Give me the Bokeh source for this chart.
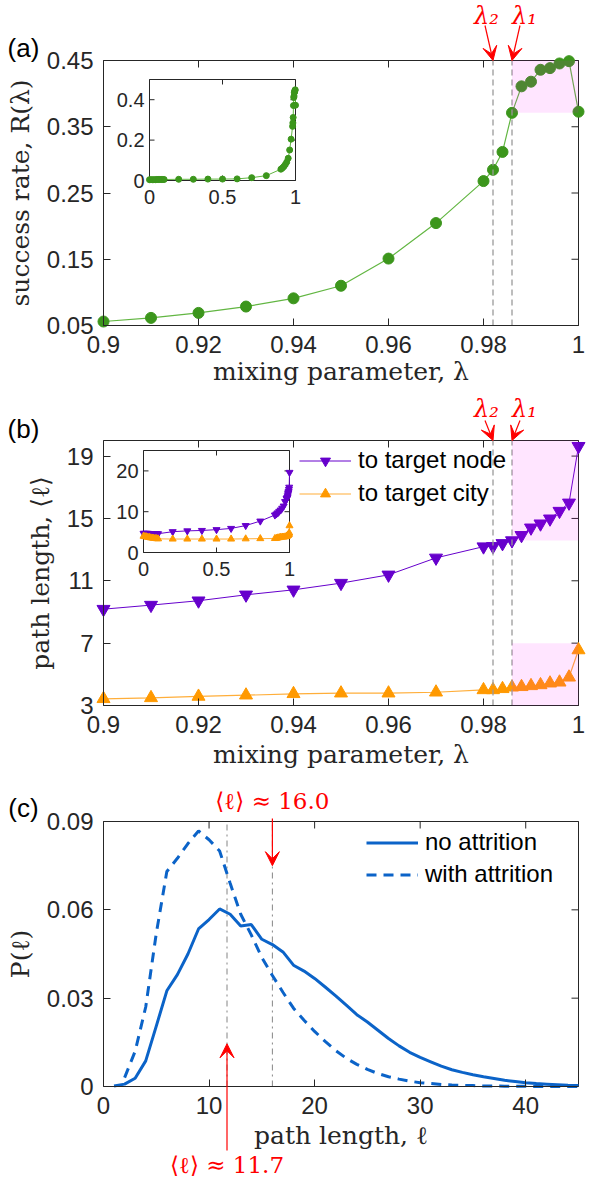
from bokeh.plotting import figure
from bokeh.models import (Range1d, FixedTicker, NumeralTickFormatter, Label, Arrow, VeeHead,
                          Legend, LegendItem, BoxAnnotation)
from bokeh.layouts import column
from bokeh.embed import file_html
from bokeh.resources import INLINE
from bokeh.core.properties import value

# ------------------------------------------------------------------ data
lam_lo = [0.0, 0.01, 0.02, 0.03, 0.04, 0.05, 0.06, 0.07, 0.08, 0.09, 0.1,
          0.2, 0.3, 0.4, 0.5, 0.6, 0.7, 0.8]
lam_hi = [0.90, 0.91, 0.92, 0.93, 0.94, 0.95, 0.96, 0.97, 0.98, 0.982, 0.984,
          0.986, 0.988, 0.990, 0.992, 0.994, 0.996, 0.998, 1.000]

R_lo = [0.004, 0.004, 0.004, 0.004, 0.004, 0.005, 0.005, 0.005, 0.005, 0.005, 0.005,
        0.006, 0.006, 0.007, 0.007, 0.008, 0.014, 0.024]
R_hi = [0.056, 0.0615, 0.069, 0.0786, 0.091, 0.110, 0.151, 0.2046, 0.268, 0.285, 0.312,
        0.371, 0.411, 0.418, 0.436, 0.4385, 0.4455, 0.449, 0.3727]

node_lo = [4.7, 4.7, 4.7, 4.7, 4.65, 4.65, 4.6, 4.6, 4.6, 4.6, 4.6,
           5.1, 5.3, 5.4, 5.6, 5.9, 6.6, 7.7]
node_hi = [9.18, 9.44, 9.72, 10.1, 10.42, 10.85, 11.38, 12.47, 13.19, 13.21, 13.4,
           13.58, 13.92, 14.4, 14.66, 14.98, 15.47, 16.0, 19.63]
city_lo = [4.0, 3.9, 3.85, 3.75, 3.7, 3.6, 3.55, 3.5, 3.45, 3.4, 3.35,
           3.3, 3.3, 3.3, 3.3, 3.3, 3.35, 3.4]
city_hi = [3.43, 3.49, 3.58, 3.66, 3.75, 3.79, 3.79, 3.85, 4.0, 4.0, 4.07,
           4.17, 4.2, 4.26, 4.32, 4.43, 4.49, 4.81, 6.56]

lam1 = 0.986
lam2 = 0.982
city_box_top = 7.0

ell_no = list(range(1, 46))
P_no = [0.0002, 0.0008, 0.0028, 0.0087, 0.0205, 0.0325, 0.0380, 0.0450, 0.0535, 0.0567,
        0.0603, 0.0585, 0.0545, 0.0550, 0.0500, 0.0482, 0.0457, 0.0412, 0.0392, 0.0367,
        0.0338, 0.0308, 0.0276, 0.0244, 0.0219, 0.0191, 0.0163, 0.0138, 0.0116, 0.0099,
        0.0084, 0.0069, 0.0057, 0.0048, 0.0040, 0.0033, 0.0027, 0.0021, 0.0017, 0.0013,
        0.0010, 0.0008, 0.0006, 0.0004, 0.0003]
ell_with = list(range(2, 46))
P_with = [0.003, 0.012, 0.027, 0.052, 0.073, 0.0775, 0.0825, 0.0868, 0.0838, 0.0800,
          0.0690, 0.0585, 0.0515, 0.0438, 0.0377, 0.0320, 0.0266, 0.0225, 0.0187, 0.0153,
          0.0122, 0.0096, 0.0075, 0.0058, 0.0044, 0.0033, 0.0025, 0.0018, 0.0013, 0.0010,
          0.0007, 0.0005, 0.0004, 0.0003, 0.0002, 0.0002, 0.0001, 0.0001, 0.0001, 0.0,
          0.0, 0.0, 0.0, 0.0]
mean_no = 16.0
mean_with = 11.7

xt_ab = [0.9, 0.92, 0.94, 0.96, 0.98, 1.0]
yt_a = [0.05, 0.15, 0.25, 0.35, 0.45]
yt_b = [3, 7, 11, 15, 19]
xt_c = [0, 10, 20, 30, 40]
yt_c = [0, 0.03, 0.06, 0.09]
inset_xt = [0, 0.5, 1]
inset_xl = ["0", "0.5", "1"]
inset_yt_a = [0, 0.2, 0.4]
inset_yl_a = ["0", "0.2", "0.4"]
inset_yt_b = [0, 10, 20]
inset_yl_b = ["0", "10", "20"]

# ------------------------------------------------------------------ style
AX = "#262626"
GREEN = "#3c961c"
GREEN_L = "#62b642"
PURPLE = "#6600cc"
ORANGE = "#ff9900"
ORANGE_L = "#ffae3a"
BLUE = "#0b63c8"
RED = "#ff0000"
SANS = "Liberation Sans"
SERIF = "DejaVu Serif"
W = 586
BOX_L, BOX_R = 103, 578
BOX_H = 265
TICK = 7


class Panel:
    """A figure whose frame fills the canvas; the axes box sits at fixed pixels."""

    def __init__(self, height, top, xlo, xhi, ylo, yhi, xt, yt, xlabel, ylabel, fx, fy,
                 xlabel_standoff=0):
        self.T, self.B, self.H = top, top + BOX_H, height
        self.xlo, self.xhi, self.ylo, self.yhi = xlo, xhi, ylo, yhi
        self.sx = (xhi - xlo) / (BOX_R - BOX_L)
        self.sy = (yhi - ylo) / BOX_H
        p = figure(width=W, height=height,
                   x_range=Range1d(self.X(0), self.X(W)),
                   y_range=Range1d(self.Y(height), self.Y(0)),
                   output_backend="svg", toolbar_location=None, min_border=0)
        p.grid.visible = False
        p.outline_line_color = None
        p.background_fill_color = "white"
        p.border_fill_color = "white"
        for ax, ticks, fmt, loc, bnd, lab in ((p.xaxis[0], xt, fx, ylo, (xlo, xhi), xlabel),
                                              (p.yaxis[0], yt, fy, xlo, (ylo, yhi), ylabel)):
            ax.ticker = FixedTicker(ticks=ticks)
            ax.formatter = NumeralTickFormatter(format=fmt)
            ax.fixed_location = loc
            ax.bounds = bnd
            ax.axis_label = lab
            ax.major_tick_in = TICK
            ax.major_tick_out = 0
            ax.minor_tick_in = 0
            ax.minor_tick_out = 0
            ax.axis_line_color = AX
            ax.major_tick_line_color = AX
            ax.major_label_text_font = SANS
            ax.major_label_text_font_size = "24px"
            ax.major_label_text_color = AX
            ax.major_label_standoff = 10
            ax.axis_label_text_font = SERIF
            ax.axis_label_text_font_size = "25px"
            ax.axis_label_text_font_style = "normal"
            ax.axis_label_text_color = AX
        p.xaxis[0].axis_label_standoff = xlabel_standoff
        p.yaxis[0].axis_label_standoff = 9
        # top and right edges of the box with mirrored inward ticks
        p.segment(x0=[xlo, xhi], y0=[yhi, ylo], x1=[xhi, xhi], y1=[yhi, yhi], line_color=AX)
        p.segment(x0=xt, y0=[yhi] * len(xt), x1=xt, y1=[yhi - TICK * self.sy] * len(xt),
                  line_color=AX)
        p.segment(x0=[xhi] * len(yt), y0=yt, x1=[xhi - TICK * self.sx] * len(yt), y1=yt,
                  line_color=AX)
        self.p = p

    def X(self, px):
        return self.xlo + (px - BOX_L) * self.sx

    def Y(self, py):
        return self.yhi - (py - self.T) * self.sy

    def vlines(self, locs, color, dash, width):
        self.p.segment(x0=locs, y0=[self.ylo] * len(locs), x1=locs, y1=[self.yhi] * len(locs),
                       line_color=color, line_dash=dash, line_width=width)

    def arrow(self, x0, y0, x1, y1):
        self.p.add_layout(Arrow(end=VeeHead(size=14, fill_color=RED, line_color=RED,
                                            line_width=1),
                                x_start=x0, y_start=y0, x_end=x1, y_end=y1,
                                line_color=RED, line_width=1.2))

    def label(self, x, y, text, font, size, color, style="normal"):
        self.p.add_layout(Label(x=x, y=y, text=text, text_font=font, text_font_size=size,
                                text_color=color, text_align="center",
                                text_baseline="middle", text_font_style=style))

    def lam_marks(self, y_start_px, y_label_px):
        for lam, dx_arrow, dx_label, txt in ((lam2, -8, -6.5, "λ₂"), (lam1, 8, 12.5, "λ₁")):
            self.arrow(lam + dx_arrow * self.sx, self.Y(y_start_px), lam, self.yhi)
            self.label(lam + dx_label * self.sx, self.Y(y_label_px), txt, SERIF, "24px", RED,
                       "italic")

    def inset(self, px_l, px_r, py_t, py_b, ytop, yt, yl):
        xy = self.p.subplot(x_source=Range1d(0, 1), y_source=Range1d(0, ytop),
                            x_target=Range1d(self.X(px_l), self.X(px_r)),
                            y_target=Range1d(self.Y(py_b), self.Y(py_t)))
        tx = 5.0 / (px_r - px_l)
        ty = 5.0 / (py_b - py_t) * ytop
        xy.quad(left=[0], right=[1], bottom=[0], top=[ytop], fill_color="white",
                line_color=AX, line_width=1)
        n, m = len(inset_xt), len(yt)
        xy.segment(x0=inset_xt, y0=[0] * n, x1=inset_xt, y1=[ty] * n, line_color=AX)
        xy.segment(x0=inset_xt, y0=[ytop] * n, x1=inset_xt, y1=[ytop - ty] * n, line_color=AX)
        xy.segment(x0=[0] * m, y0=yt, x1=[tx] * m, y1=yt, line_color=AX)
        xy.segment(x0=[1] * m, y0=yt, x1=[1 - tx] * m, y1=yt, line_color=AX)
        xy.text(x=inset_xt, y=[0] * n, text=inset_xl, text_align="center",
                text_baseline="top", y_offset=9, text_font=value(SANS),
                text_font_size=value("20px"), text_color=AX)
        xy.text(x=[0] * m, y=yt, text=yl, text_align="right",
                text_baseline="middle", x_offset=-5, text_font=value(SANS),
                text_font_size=value("20px"), text_color=AX)
        return xy

    def legend(self, items, px_x, py_top, spacing):
        rows = len(items)
        h = rows * 25 + (rows - 1) * spacing
        leg = Legend(items=items, location=(px_x, self.H - py_top - h), padding=0,
                     spacing=spacing, margin=0, glyph_width=52, glyph_height=25,
                     label_height=25, label_standoff=7, label_text_font=SANS,
                     label_text_font_size="24px", label_text_color="black",
                     border_line_color=None, background_fill_alpha=0)
        self.p.add_layout(leg)


# ------------------------------------------------------------------ (a)
A = Panel(393, 60, 0.9, 1.0, 0.05, 0.45, xt_ab, yt_a,
          "mixing parameter, λ", "success rate, R(λ)", "0.[00]", "0.00", 1)
A.p.line(lam_hi, R_hi, line_color=GREEN_L, line_width=1.2)
A.p.scatter(lam_hi, R_hi, size=11, fill_color=GREEN, line_color=GREEN)
A.vlines([lam2, lam1], "#9a9a9a", "6 4", 1.3)
A.p.add_layout(BoxAnnotation(left=lam1, right=1.0, bottom=R_hi[lam_hi.index(lam1)], top=0.45,
                             fill_color="magenta", fill_alpha=0.1, line_color=None))
ia = A.inset(149, 295, 79, 180, 0.5, inset_yt_a, inset_yl_a)
ia.line(lam_lo + lam_hi, R_lo + R_hi, line_color=GREEN_L, line_width=1)
ia.scatter(lam_lo + lam_hi, R_lo + R_hi, size=6, fill_color=GREEN, line_color=GREEN)
A.lam_marks(25, 15)
A.label(A.X(23), A.Y(47), "(a)", SANS, "26px", "black")

# ------------------------------------------------------------------ (b)
Bp = Panel(387, 47, 0.9, 1.0, 3, 20, xt_ab, yt_b,
           "mixing parameter, λ", "path length, ⟨ℓ⟩", "0.[00]", "0", 4)
ln = Bp.p.line(lam_hi, node_hi, line_color=PURPLE, line_width=1)
sn = Bp.p.scatter(lam_hi, node_hi, marker="inverted_triangle", size=13,
                  fill_color=PURPLE, line_color=PURPLE)
lc = Bp.p.line(lam_hi, city_hi, line_color=ORANGE_L, line_width=1.2)
sc = Bp.p.scatter(lam_hi, city_hi, marker="triangle", size=13,
                  fill_color=ORANGE, line_color=ORANGE)
Bp.vlines([lam2, lam1], "#9a9a9a", "6 4", 1.3)
Bp.p.add_layout(BoxAnnotation(left=lam1, right=1.0, bottom=node_hi[lam_hi.index(lam1)], top=20,
                              fill_color="magenta", fill_alpha=0.1, line_color=None))
Bp.p.add_layout(BoxAnnotation(left=lam1, right=1.0, bottom=3, top=city_box_top,
                              fill_color="magenta", fill_alpha=0.1, line_color=None))
ib = Bp.inset(143, 289, 57, 159, 25, inset_yt_b, inset_yl_b)
ib.line(lam_lo + lam_hi, node_lo + node_hi, line_color=PURPLE, line_width=1)
ib.scatter(lam_lo + lam_hi, node_lo + node_hi, marker="inverted_triangle", size=7,
           fill_color=PURPLE, line_color=PURPLE)
ib.line(lam_lo + lam_hi, city_lo + city_hi, line_color=ORANGE_L, line_width=1)
ib.scatter(lam_lo + lam_hi, city_lo + city_hi, marker="triangle", size=7,
           fill_color=ORANGE, line_color=ORANGE)
Bp.lam_marks(27, 15)
Bp.legend([LegendItem(label="to target node", renderers=[ln, sn]),
           LegendItem(label="to target city", renderers=[lc, sc])], 299, 59, 5)
Bp.label(Bp.X(23), Bp.Y(35), "(b)", SANS, "26px", "black")

# ------------------------------------------------------------------ (c)
C = Panel(398, 41, 0, 45, 0, 0.09, xt_c, yt_c, "path length, ℓ", "P(ℓ)", "0", "0.[00]", 4)
C.vlines([mean_with, mean_no], "#666666", "dashdot", 0.8)
l_no = C.p.line(ell_no, P_no, line_color=BLUE, line_width=3)
l_with = C.p.line(ell_with, P_with, line_color=BLUE, line_width=3, line_dash="10 7")
C.legend([LegendItem(label="no attrition", renderers=[l_no]),
          LegendItem(label="with attrition", renderers=[l_with])], 366, 54, 4)
C.arrow(mean_no, C.Y(38), mean_no, 0.075)
C.arrow(mean_with, C.Y(370), mean_with, 0.0145)
C.label(mean_no, C.Y(20), "⟨ℓ⟩ ≈ 16.0", SERIF, "23px", RED)
C.label(mean_with, C.Y(384), "⟨ℓ⟩ ≈ 11.7", SERIF, "23px", RED)
C.label(C.X(23), C.Y(27), "(c)", SANS, "26px", "black")

layout = column(A.p, Bp.p, C.p, spacing=0)
open("out.html", "w").write(file_html(layout, INLINE))
